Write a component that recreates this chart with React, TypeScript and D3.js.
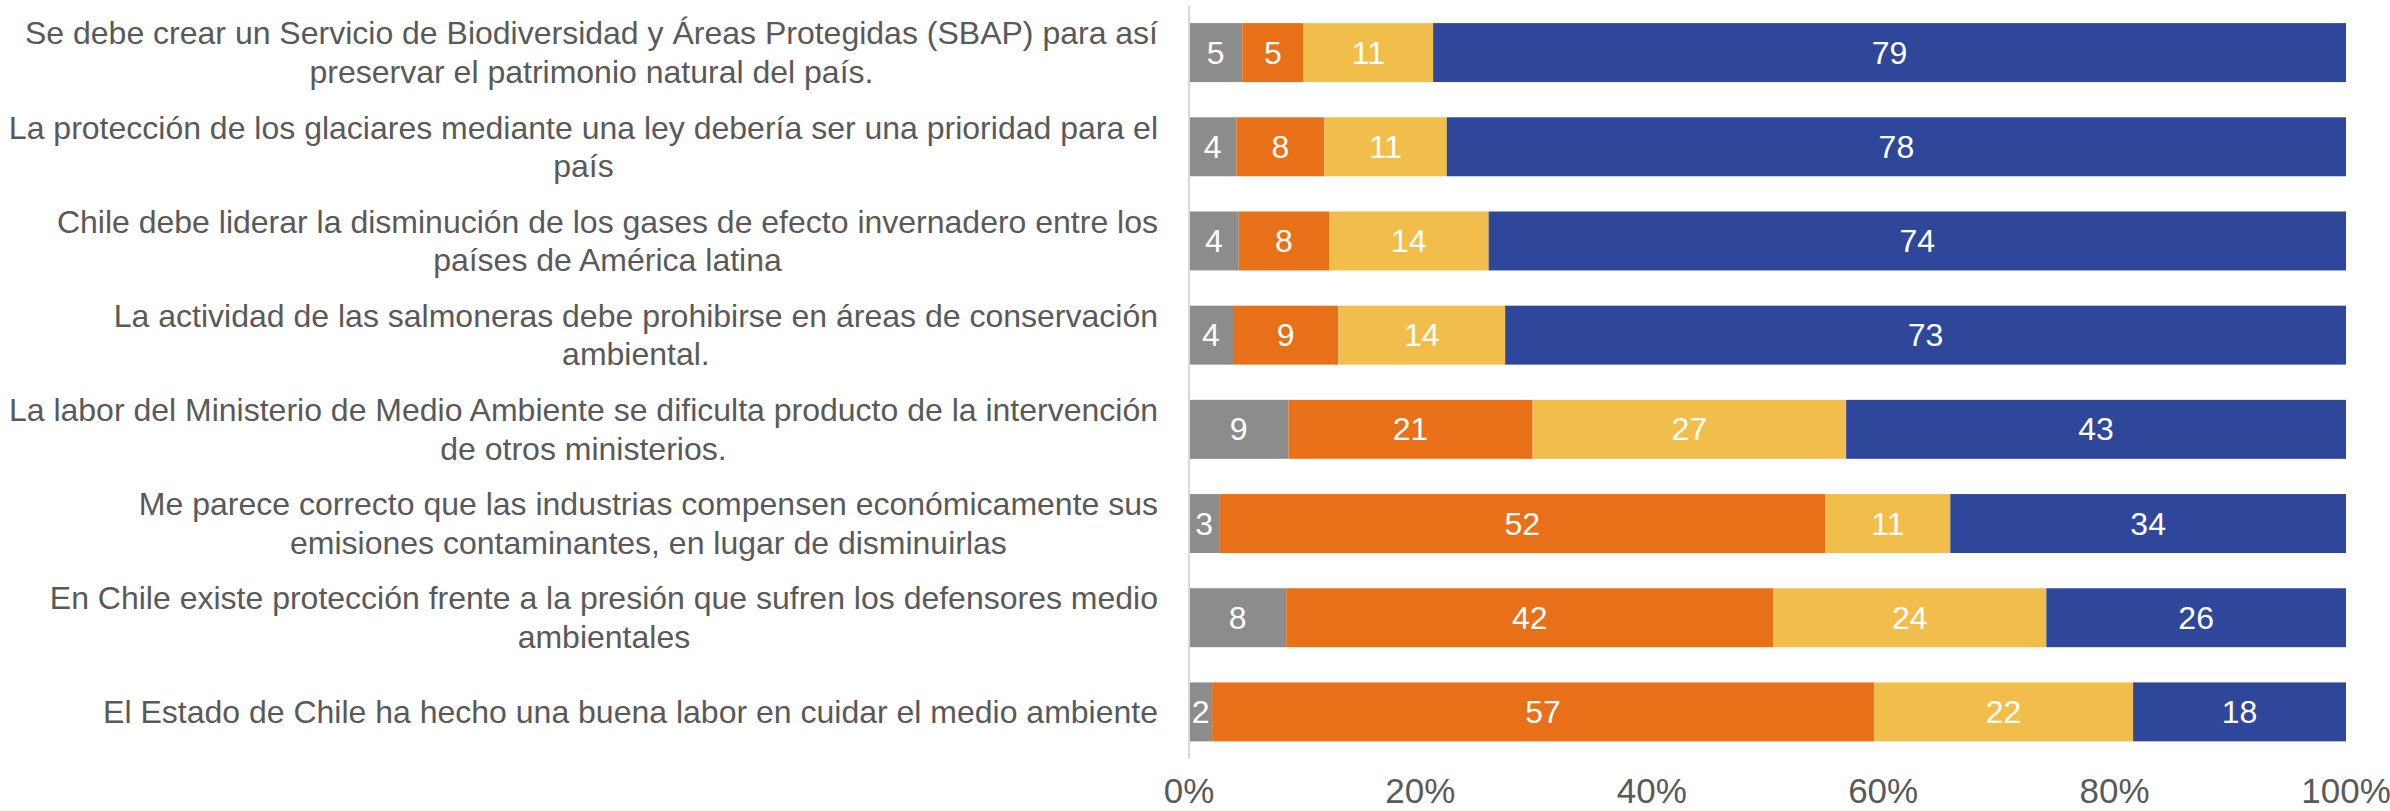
import React, { useEffect, useRef } from "react";
import * as d3 from "d3";

const categories: string[][] = [
  ["Se debe crear un Servicio de Biodiversidad y Áreas Protegidas (SBAP) para así", "preservar el patrimonio natural del país."],
  ["La protección de los glaciares mediante una ley debería ser una prioridad para el", "país"],
  ["Chile debe liderar la disminución de los gases de efecto invernadero entre los", "países de América latina"],
  ["La actividad de las salmoneras debe prohibirse en áreas de conservación", "ambiental."],
  ["La labor del Ministerio de Medio Ambiente se dificulta producto de la intervención", "de otros ministerios."],
  ["Me parece correcto que las industrias compensen económicamente sus", "emisiones contaminantes, en lugar de disminuirlas"],
  ["En Chile existe protección frente a la presión que sufren los defensores medio", "ambientales"],
  ["El Estado de Chile ha hecho una buena labor en cuidar el medio ambiente"],
];

const seriesNames = ["nsnr", "desacuerdo", "neutral", "acuerdo"];
const nsnr = [4.6, 4.1, 4.3, 3.8, 8.6, 2.6, 8.4, 2.0];
const desacuerdo = [5.3, 7.6, 7.8, 9.1, 21.1, 52.4, 42.1, 57.2];
const neutral = [11.2, 10.6, 13.8, 14.4, 27.1, 10.8, 23.6, 22.4];
const acuerdo = [78.9, 77.8, 74.1, 72.6, 43.2, 34.2, 25.9, 18.4];
const seriesColors = ["#8c8c8c", "#e87018", "#f1be4b", "#2f479b"];
const tickValues = [0, 0.2, 0.4, 0.6, 0.8, 1];

const W = 2390;
const H = 811;
const FONT = "'Liberation Sans', Arial, sans-serif";

export default function App() {
  const ref = useRef<SVGSVGElement>(null);

  useEffect(() => {
    const svg = d3.select(ref.current);
    svg.selectAll("*").remove();

    const rows = categories.map((c, i) => ({
      idx: i,
      nsnr: nsnr[i],
      desacuerdo: desacuerdo[i],
      neutral: neutral[i],
      acuerdo: acuerdo[i],
    }));

    const x = d3.scaleLinear().domain([0, 1]).range([1189, 2346]);
    const y = d3
      .scaleBand<number>()
      .domain(rows.map((r) => r.idx))
      .range([5.5, 759])
      .paddingInner(0.374)
      .paddingOuter(0.187);

    const stack = d3
      .stack<any>()
      .keys(seriesNames)
      .offset(d3.stackOffsetExpand);
    const stacked = stack(rows);

    const g = svg.append("g");
    stacked.forEach((s, si) => {
      const grp = g.append("g").attr("fill", seriesColors[si]);
      grp
        .selectAll("rect")
        .data(s)
        .join("rect")
        .attr("x", (d) => x(d[0]))
        .attr("y", (d) => y(d.data.idx)!)
        .attr("width", (d) => x(d[1]) - x(d[0]))
        .attr("height", y.bandwidth());
    });
    stacked.forEach((s, si) => {
      g.append("g")
        .selectAll("text")
        .data(s)
        .join("text")
        .attr("x", (d) => (x(d[0]) + x(d[1])) / 2)
        .attr("y", (d) => y(d.data.idx)! + y.bandwidth() / 2)
        .attr("text-anchor", "middle")
        .attr("dominant-baseline", "central")
        .attr("fill", "#ffffff")
        .attr("font-family", FONT)
        .attr("font-size", 32)
        .text((d) => d3.format(".0f")((d.data as any)[seriesNames[si]]));
    });

    // axis line
    svg
      .append("line")
      .attr("x1", x(0))
      .attr("x2", x(0))
      .attr("y1", y.range()[0])
      .attr("y2", y.range()[1])
      .attr("stroke", "#d9d9d9")
      .attr("stroke-width", 2);

    // tick labels
    svg
      .append("g")
      .selectAll("text")
      .data(tickValues)
      .join("text")
      .attr("x", (d) => x(d))
      .attr("y", 803)
      .attr("text-anchor", "middle")
      .attr("fill", "#595959")
      .attr("font-family", FONT)
      .attr("font-size", 35)
      .text((d) => d3.format(".0%")(d));

    // category labels
    const rightEdge = 1158;
    const lineH = 38.5;
    categories.forEach((lines, i) => {
      const cy = y(i)! + y.bandwidth() / 2;
      const tg = svg.append("g");
      const texts = tg
        .selectAll("text")
        .data(lines)
        .join("text")
        .attr("y", (_, li) => cy + (li - (lines.length - 1) / 2) * lineH)
        .attr("dominant-baseline", "central")
        .attr("text-anchor", "middle")
        .attr("fill", "#595959")
        .attr("font-family", FONT)
        .attr("font-size", 32)
        .text((d) => d);
      let maxW = 0;
      texts.each(function () {
        const w = (this as SVGTextElement).getComputedTextLength();
        if (w > maxW) maxW = w;
      });
      texts.attr("x", rightEdge - maxW / 2);
    });
  }, []);

  return (
    <svg
      ref={ref}
      width={W}
      height={H}
      style={{ position: "absolute", left: 0, top: 0, display: "block", background: "#fff" }}
    />
  );
}
